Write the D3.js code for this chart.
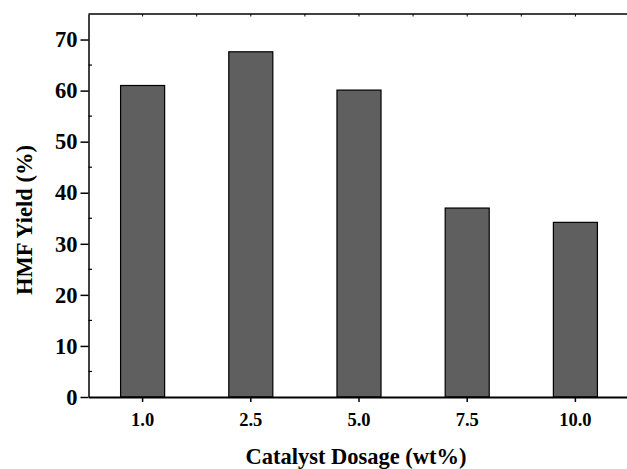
<!DOCTYPE html>
<html lang="en">
<head>
  <meta charset="UTF-8">
  <title>HMF Yield vs Catalyst Dosage</title>
  <style>
    body { margin: 0; background: #fff; }
    svg text { font-family: "Liberation Serif", "Times New Roman", serif; font-weight: bold; fill: #000; }
  </style>
</head>
<body>
  <div id="chart"></div>
  <script src="https://cdnjs.cloudflare.com/ajax/libs/d3/7.8.5/d3.min.js"></script>
  <script>
    var categories = ['1.0', '2.5', '5.0', '7.5', '10.0']
    var yields = [61.0, 67.6, 60.1, 37.0, 34.2]
    var yTicks = [0, 10, 20, 30, 40, 50, 60, 70]
    var yMinor = [5, 15, 25, 35, 45, 55, 65]

    var width = 627, height = 469
    // plot box (right edge sits just past the picture)
    var plotL = 88.5, plotR = 629.5, plotT = 14, plotB = 397

    var svg = d3.select('#chart').append('svg')
      .attr('width', width)
      .attr('height', height)

    var x = d3.scaleBand().domain(categories).range([plotL, plotR]).paddingInner(0.593).paddingOuter(0.2965)
    var y = d3.scaleLinear().domain([0, 75]).range([plotB, plotT])

    // bars
    svg.append('g').selectAll('rect')
      .data(yields)
      .enter().append('rect')
      .attr('x', function(d, i) { return x(categories[i]) })
      .attr('y', function(d) { return y(d) })
      .attr('width', x.bandwidth())
      .attr('height', function(d) { return y(0) - y(d) })
      .attr('fill', '#5f5f5f')
      .attr('stroke', '#000')
      .attr('stroke-width', 1.2)

    // top frame with small inward ticks at centres and band edges
    var step = x.step()
    var topTicks = []
    categories.forEach(function(c) {
      topTicks.push(x(c) + x.bandwidth() / 2)
      topTicks.push(x(c) + x.bandwidth() / 2 + step / 2)
    })
    svg.append('line').attr('x1', plotL).attr('x2', plotR).attr('y1', plotT).attr('y2', plotT)
      .attr('stroke', '#000').attr('stroke-width', 1.5)
    svg.append('g').selectAll('line').data(topTicks).enter().append('line')
      .attr('x1', function(d) { return d }).attr('x2', function(d) { return d })
      .attr('y1', plotT).attr('y2', plotT + 2.5)
      .attr('stroke', '#000').attr('stroke-width', 1)

    // y axis
    var yAxis = svg.append('g')
      .attr('transform', 'translate(' + plotL + ',0)')
      .call(d3.axisLeft(y).tickValues(yTicks).tickSize(8).tickPadding(3).tickSizeOuter(0).tickFormat(d3.format('d')))
    yAxis.attr('font-family', null)
    yAxis.select('.domain').attr('stroke-width', 1.5)
    yAxis.selectAll('.tick line').attr('stroke-width', 1.5)
    yAxis.selectAll('.tick text').attr('font-size', 22.5)
    svg.append('g').selectAll('line').data(yMinor).enter().append('line')
      .attr('x1', plotL).attr('x2', plotL + 3.5)
      .attr('y1', function(d) { return y(d) }).attr('y2', function(d) { return y(d) })
      .attr('stroke', '#000').attr('stroke-width', 1.2)

    // x axis
    var xAxis = svg.append('g')
      .attr('transform', 'translate(0,' + plotB + ')')
      .call(d3.axisBottom(x).tickSize(5).tickPadding(11).tickSizeOuter(0))
    xAxis.attr('font-family', null)
    xAxis.select('.domain').attr('stroke-width', 1.8)
    xAxis.selectAll('.tick line').attr('stroke-width', 1.5)
    xAxis.selectAll('.tick text').attr('font-size', 18.5)

    // axis titles
    svg.append('text')
      .attr('x', 356).attr('y', 464)
      .attr('text-anchor', 'middle')
      .attr('font-size', 22.5)
      .text('Catalyst Dosage (wt%)')
    svg.append('text')
      .attr('transform', 'translate(32,220) rotate(-90)')
      .attr('text-anchor', 'middle')
      .attr('font-size', 22.5)
      .text('HMF Yield (%)')
  </script>
</body>
</html>
